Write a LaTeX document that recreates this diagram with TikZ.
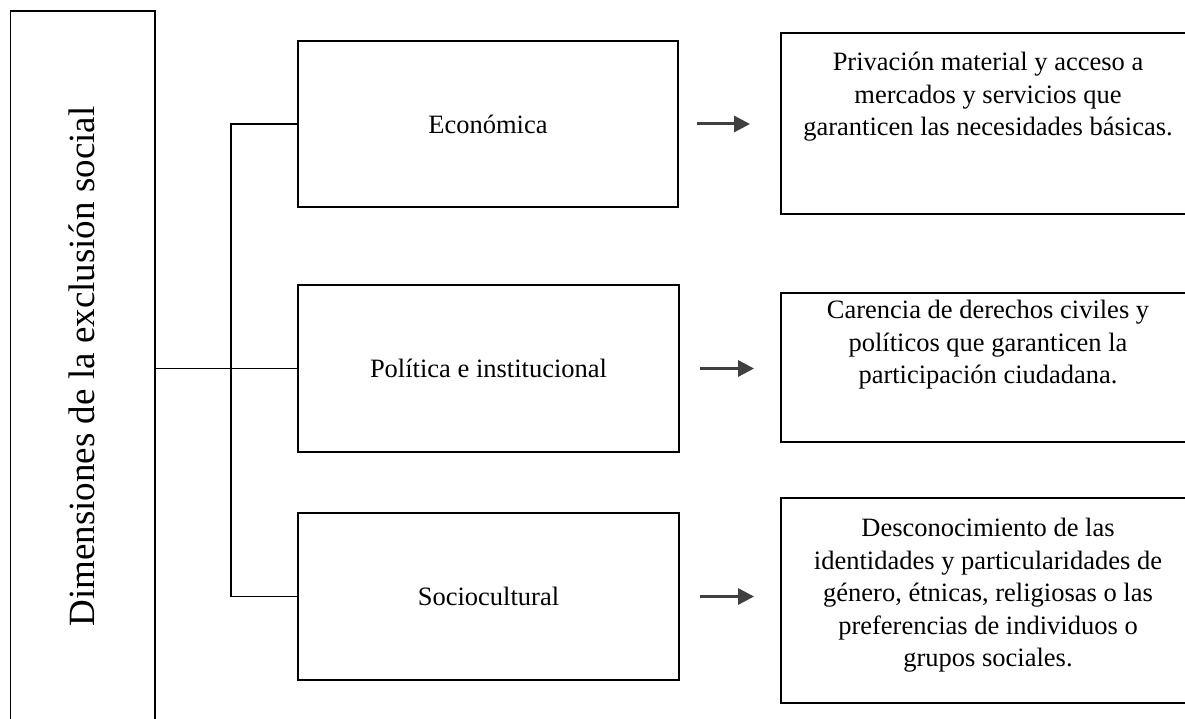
\documentclass[tikz,border=0pt]{standalone}
\usepackage{fontspec}
\setmainfont{Liberation Serif}
\usetikzlibrary{arrows.meta}
\definecolor{arrowgray}{HTML}{404040}
\begin{document}
\begin{tikzpicture}[x=1pt,y=-1pt,
  frame/.style={draw, line width=1.9pt, inner sep=0pt},
  link/.style={draw, line width=1.9pt},
  arr/.style={draw=arrowgray, line width=3pt, -{Triangle[length=16pt,width=16pt]}},
  body/.style={font=\fontsize{26.5pt}{32.5pt}\selectfont, align=center, inner sep=0pt},
]
\useasboundingbox (0,0) rectangle (1185,719);
\clip (0,0) rectangle (1185,719);
\fill[white] (0,0) rectangle (1185,719);

% title column
\node[frame, minimum width=144.5pt, minimum height=719pt] (dim) at (82.75,370.5) {};
\node[rotate=90, anchor=base, inner sep=0pt, font=\fontsize{37pt}{44pt}\selectfont] (dimtxt) at (94.5,366.5) {Dimensiones de la exclusión social};

% dimensions
\node[frame, body, minimum width=380pt, minimum height=166pt] (b1) at (488,124) {Económica};
\node[frame, body, minimum width=381pt, minimum height=167pt] (b2) at (488.5,368.5) {Política e institucional};
\node[frame, body, minimum width=381pt, minimum height=167pt] (b3) at (488.5,596.5) {Sociocultural};

% descriptions
\node[frame, minimum width=414pt, minimum height=181pt] (r1) at (988,123.5) {};
\node[body, anchor=north] (t1) at (988,52) {Privación material y acceso a\\mercados y servicios que\\garanticen las necesidades básicas.};
\node[frame, minimum width=414pt, minimum height=149pt] (r2) at (988,367.5) {};
\node[body, anchor=north] (t2) at (988,300) {Carencia de derechos civiles y\\políticos que garanticen la\\participación ciudadana.};
\node[frame, minimum width=414pt, minimum height=205pt] (r3) at (988,600.5) {};
\node[body, anchor=north] (t3) at (988,518) {Desconocimiento de las\\identidades y particularidades de\\género, étnicas, religiosas o las\\preferencias de individuos o\\grupos sociales.};

% tree connectors
\coordinate (spine) at (231,368);
\draw[link] (dim.east |- b2.west) -- (b2.west);
\draw[link] (b1.west) -- (b1.west -| spine) -- (b3.west -| spine) -- (b3.west);

% arrows
\draw[arr] ([xshift=18pt]b1.east) -- ([xshift=-30pt]r1.west |- b1.east);
\draw[arr] ([xshift=20pt]b2.east) -- ([xshift=-26pt]r2.west |- b2.east);
\draw[arr] ([xshift=20pt]b3.east) -- ([xshift=-26pt]r3.west |- b3.east);
\end{tikzpicture}
\end{document}
